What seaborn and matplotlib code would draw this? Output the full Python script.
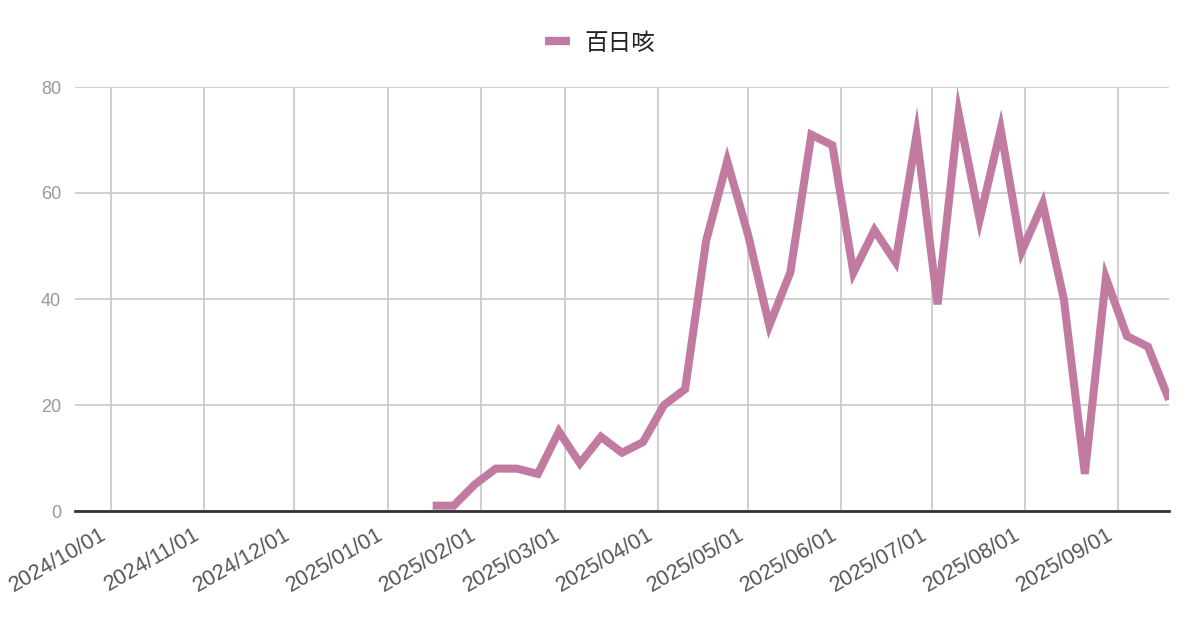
import pandas as pd
import matplotlib
matplotlib.use("Agg")
import matplotlib.pyplot as plt
import matplotlib.dates as mdates
import matplotlib.transforms as mtransforms
import seaborn as sns

# weekly counts (first week 2025/01/16)
start_date = "2025-01-16"
counts = [1, 1, 5, 8, 8, 7, 15, 9, 14, 11, 13, 20, 23, 51, 66, 52, 35, 45,
          71, 69, 45, 53, 47, 71, 39, 75, 55, 72, 49, 58, 40, 7, 44, 33, 31, 21]
series_name = "百日咳"
x_start = "2024-09-19"
x_end = "2025-09-18"
tick_dates = ["2024-10-01", "2024-11-01", "2024-12-01", "2025-01-01", "2025-02-01",
              "2025-03-01", "2025-04-01", "2025-05-01", "2025-06-01", "2025-07-01",
              "2025-08-01", "2025-09-01"]
y_ticks = [0, 20, 40, 60, 80]

df = pd.DataFrame({
    "date": pd.date_range(start_date, periods=len(counts), freq="7D"),
    "count": counts,
})

sns.set_theme(style="white")
plt.rcParams['font.family'] = ['Noto Sans CJK JP', 'DejaVu Sans']

fig = plt.figure(figsize=(12, 6.26), dpi=100)
ax = fig.add_axes([75 / 1200, 1 - 511 / 626, (1169 - 75) / 1200, (511 - 87) / 626])

sns.lineplot(data=df, x="date", y="count", ax=ax, color="#c27ba0",
             linewidth=5.8, label=series_name, solid_joinstyle="miter",
             solid_capstyle="butt")

ax.set_xlim(pd.Timestamp(x_start), pd.Timestamp(x_end))
ax.set_ylim(0, 80)
ax.set_yticks(y_ticks)
ax.set_xticks(pd.to_datetime(tick_dates))
ax.xaxis.set_major_formatter(mdates.DateFormatter("%Y/%m/%d"))
ax.grid(True, color="#cccccc", linewidth=1.3)
ax.set_axisbelow(True)
for s in ["top", "right", "left"]:
    ax.spines[s].set_visible(False)
ax.spines["bottom"].set_color("#333333")
ax.spines["bottom"].set_linewidth(2)
ax.spines["bottom"].set_zorder(3)
ax.set_xlabel("")
ax.set_ylabel("")
ax.tick_params(axis="y", length=0, labelsize=13, labelcolor="#999999", pad=10)
ax.tick_params(axis="x", length=0, labelsize=15.5, labelcolor="#555555", pad=16)
shift = mtransforms.ScaledTranslation(-6 / 100, 0, fig.dpi_scale_trans)
for lbl in ax.get_xticklabels():
    lbl.set_rotation(30)
    lbl.set_ha("right")
    lbl.set_va("center")
    lbl.set_rotation_mode("anchor")
    lbl.set_family(['Liberation Sans', 'DejaVu Sans'])
    lbl.set_transform(lbl.get_transform() + shift)
for lbl in ax.get_yticklabels():
    lbl.set_family(['Liberation Sans', 'DejaVu Sans'])

leg = ax.legend(loc="center", bbox_to_anchor=(0.5, 1 - 43 / 626),
                bbox_transform=fig.transFigure, frameon=False,
                fontsize=17, handlelength=1.05, handletextpad=0.6)
for t in leg.get_texts():
    t.set_color("#222222")
for h in leg.get_lines():
    h.set_linewidth(6)

fig.savefig("out.png", dpi=100)
